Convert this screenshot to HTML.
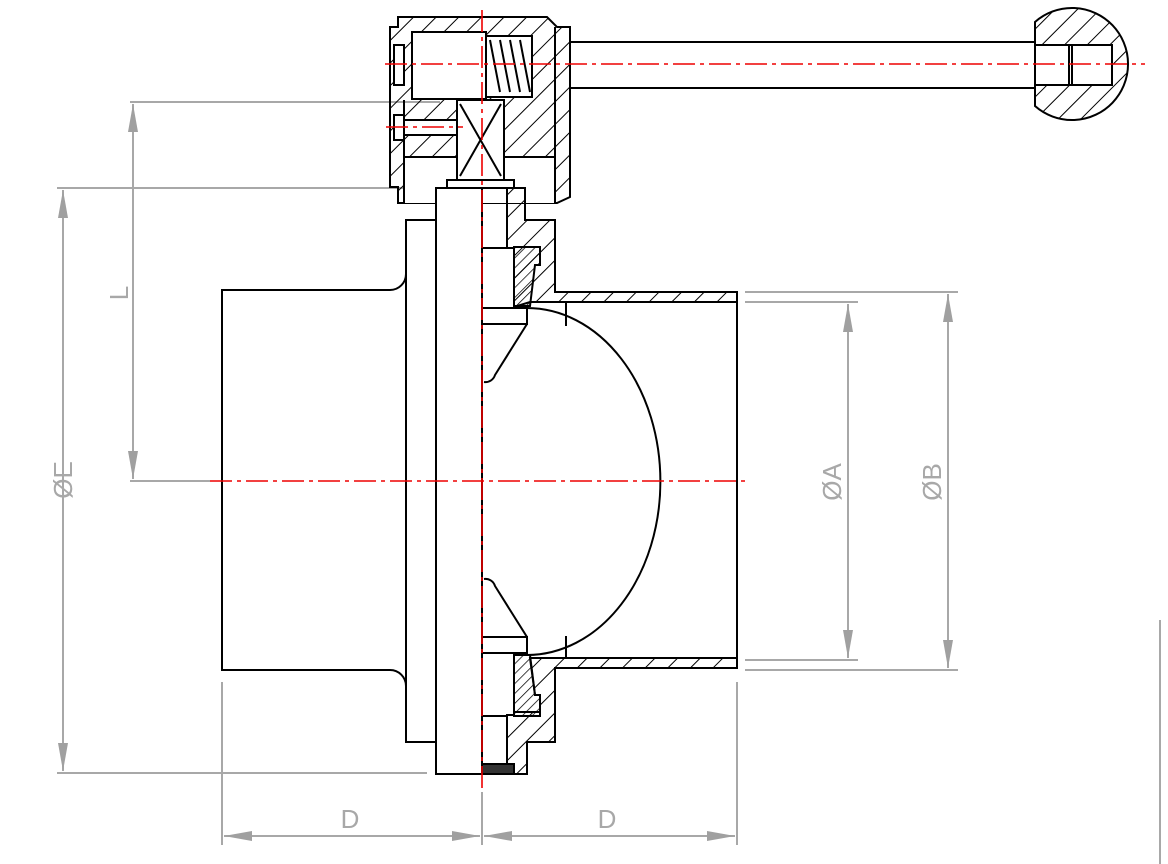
<!DOCTYPE html>
<html><head><meta charset="utf-8"><style>
html,body{margin:0;padding:0;background:#fff;}
svg{display:block;}
text{font-family:"Liberation Sans",sans-serif;font-size:26px;fill:#a8a8a8;}
</style></head><body>
<svg width="1168" height="864" viewBox="0 0 1168 864" xmlns="http://www.w3.org/2000/svg">
<defs>
<pattern id="h" width="16" height="16" patternUnits="userSpaceOnUse" patternTransform="rotate(45)"><line x1="0" y1="0" x2="0" y2="16" stroke="#000" stroke-width="2"/></pattern>
<pattern id="f" width="7" height="7" patternUnits="userSpaceOnUse" patternTransform="rotate(45)"><line x1="0" y1="0" x2="0" y2="7" stroke="#000" stroke-width="1.5"/></pattern>
<marker id="a" markerWidth="28" markerHeight="10" refX="28" refY="5" orient="auto" markerUnits="userSpaceOnUse"><path d="M0,0 L28,5 L0,10 Z" fill="#a0a0a0"/></marker>
</defs>

<g stroke="#a8a8a8" stroke-width="2" fill="none">
<line x1="130" y1="102" x2="440" y2="102"/>
<line x1="57" y1="188" x2="430" y2="188"/>
<line x1="133" y1="290" x2="133" y2="104" marker-end="url(#a)"/>
<line x1="133" y1="290" x2="133" y2="479" marker-end="url(#a)"/>
<line x1="130" y1="481" x2="210" y2="481"/>
<line x1="63" y1="480" x2="63" y2="190" marker-end="url(#a)"/>
<line x1="63" y1="480" x2="63" y2="771" marker-end="url(#a)"/>
<line x1="57" y1="773" x2="427" y2="773"/>
<line x1="745" y1="292" x2="958" y2="292"/>
<line x1="745" y1="302" x2="858" y2="302"/>
<line x1="745" y1="660" x2="858" y2="660"/>
<line x1="745" y1="670" x2="958" y2="670"/>
<line x1="848" y1="480" x2="848" y2="304" marker-end="url(#a)"/>
<line x1="848" y1="480" x2="848" y2="658" marker-end="url(#a)"/>
<line x1="948" y1="480" x2="948" y2="294" marker-end="url(#a)"/>
<line x1="948" y1="480" x2="948" y2="668" marker-end="url(#a)"/>
<line x1="222" y1="682" x2="222" y2="845"/>
<line x1="737" y1="682" x2="737" y2="845"/>
<line x1="482" y1="792" x2="482" y2="845"/>
<line x1="350" y1="836" x2="224" y2="836" marker-end="url(#a)"/>
<line x1="350" y1="836" x2="480" y2="836" marker-end="url(#a)"/>
<line x1="610" y1="836" x2="484" y2="836" marker-end="url(#a)"/>
<line x1="610" y1="836" x2="735" y2="836" marker-end="url(#a)"/>
<line x1="1160" y1="620" x2="1160" y2="864"/>
</g>
<text transform="translate(128,293) rotate(-90)" text-anchor="middle">L</text>
<text transform="translate(72,480) rotate(-90)" text-anchor="middle">ØE</text>
<text transform="translate(841,482) rotate(-90)" text-anchor="middle">ØA</text>
<text transform="translate(941,482) rotate(-90)" text-anchor="middle">ØB</text>
<text x="350" y="828" text-anchor="middle">D</text>
<text x="607" y="828" text-anchor="middle">D</text>

<g stroke="#000" stroke-width="2" fill="none">
<rect x="570" y="42" width="465" height="46" fill="#fff"/>
<path d="M1035,22 A56,56 0 1 1 1035,106 Z" fill="url(#h)"/>
<rect x="1035" y="45" width="77" height="40" fill="#fff"/>
<line x1="1069" y1="45" x2="1069" y2="85"/><line x1="1072" y1="45" x2="1072" y2="85"/>

<path d="M398,17 L547,17 L557,27 L570,27 L570,197 L557,203 L398,203 L398,187 L390,187 L390,27 L398,27 Z" fill="url(#h)"/>
<rect x="404" y="157" width="151" height="46" fill="#fff" stroke="none"/>
<line x1="404" y1="157" x2="555" y2="157"/>
<line x1="404" y1="100" x2="404" y2="203"/>
<line x1="555" y1="27" x2="555" y2="203"/>
<rect x="412" y="32" width="74" height="67" fill="#fff"/>
<rect x="486" y="36" width="46" height="61" fill="#fff"/>
<path d="M490,40 L500,92 M500,40 L510,92 M510,40 L520,92 M520,40 L530,92"/>
<rect x="394" y="45" width="10" height="40" fill="#fff"/>
<rect x="404" y="120" width="53" height="15" fill="#fff"/>
<rect x="394" y="115" width="10" height="25" fill="#fff"/>
<rect x="457" y="100" width="47" height="80" fill="#fff"/>
<path d="M460,104 L501,176 M501,104 L460,176"/>
<rect x="447" y="180" width="67" height="8" fill="#fff"/>

<path d="M222,290 L390,290 A16,16 0 0 0 406,274 L406,220 L436,220 L436,742 L406,742 L406,686 A16,16 0 0 0 390,670 L222,670 Z" fill="#fff"/>
<line x1="406" y1="270" x2="406" y2="690"/>
<rect x="436" y="188" width="46" height="586" fill="#fff"/>

<path d="M507,188 L525,188 L525,220 L555,220 L555,292 L737,292 L737,302 L530,302 L514,307 L514,248 L507,248 Z" fill="url(#h)"/>
<path d="M514,247 L540,247 L540,265 L535,265 L530,306 L514,306 Z" fill="url(#f)"/>
<rect x="482" y="248" width="32" height="60" fill="#fff"/>
<rect x="482" y="308" width="45" height="16" fill="#fff"/>
<path d="M527,324 L495,375 A10,10 0 0 1 484,382"/>
<path d="M530,658 L737,658 L737,668 L555,668 L555,742 L527,742 L527,774 L507,774 L507,715 L514,715 L514,712 L540,712 L540,695 L535,695 Z" fill="url(#h)"/>
<path d="M514,655 L530,655 L535,695 L540,695 L540,716 L514,716 Z" fill="url(#f)"/>
<rect x="482" y="637" width="45" height="16" fill="#fff"/>
<rect x="482" y="716" width="25" height="48" fill="#fff"/>
<rect x="482" y="764" width="32" height="10" fill="#333"/>
<path d="M527,637 L495,586 A10,10 0 0 0 484,579"/>

<path d="M737,302 L737,658"/>
<line x1="566" y1="302" x2="566" y2="326"/>
<line x1="566" y1="636" x2="566" y2="658"/>
<path d="M527,308 A133,173 0 0 1 527,655"/>
</g>

<g stroke="#e00" stroke-width="1.6" stroke-dasharray="22,5,4,5" fill="none">
<line x1="482" y1="10" x2="482" y2="790"/>
<line x1="210" y1="481" x2="745" y2="481"/>
<line x1="385" y1="64" x2="1145" y2="64"/>
<line x1="386" y1="127" x2="463" y2="127"/>
</g>
</svg>
</body></html>
